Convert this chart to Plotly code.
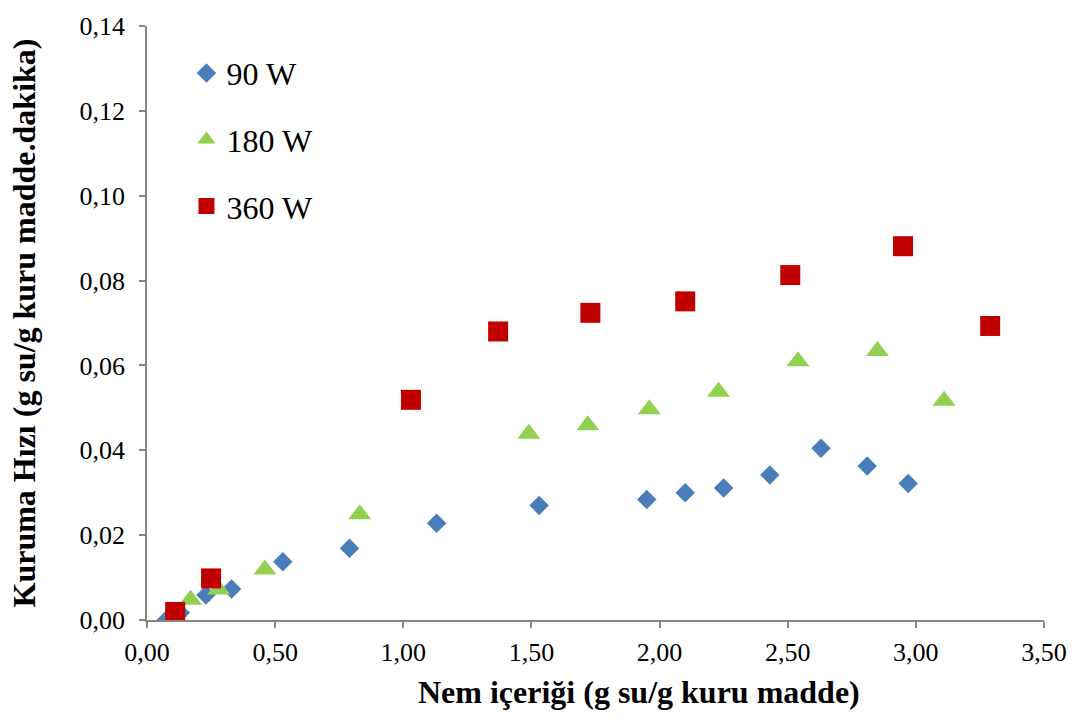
import plotly.graph_objects as go

# Kuruma hızı - nem içeriği verileri
nem_90 = [0.075, 0.13, 0.23, 0.33, 0.53, 0.79, 1.13, 1.53, 1.95, 2.10, 2.25, 2.43, 2.63, 2.81, 2.97]
hiz_90 = [0.0000, 0.0017, 0.0059, 0.0073, 0.0137, 0.0169, 0.0228, 0.0270, 0.0284, 0.0300,
          0.0311, 0.0342, 0.0405, 0.0363, 0.0322]

nem_180 = [0.17, 0.28, 0.46, 0.83, 1.49, 1.72, 1.96, 2.23, 2.54, 2.85, 3.11]
hiz_180 = [0.0048, 0.0072, 0.0119, 0.0249, 0.0439, 0.0459, 0.0497, 0.0538, 0.0610, 0.0634, 0.0517]

nem_360 = [0.11, 0.25, 1.03, 1.37, 1.73, 2.10, 2.51, 2.95, 3.29]
hiz_360 = [0.0019, 0.0098, 0.0519, 0.0680, 0.0724, 0.0751, 0.0813, 0.0881, 0.0693]

x_ticks = [0, 0.5, 1.0, 1.5, 2.0, 2.5, 3.0, 3.5]
y_ticks = [0, 0.02, 0.04, 0.06, 0.08, 0.10, 0.12, 0.14]

x_title = "Nem içeriği (g su/g kuru madde)"
y_title = "Kuruma Hızı (g su/g kuru madde.dakika)"

FONT = "Liberation Serif"
AXIS_COLOR = "#868686"

fig = go.Figure()
fig.add_trace(go.Scatter(x=nem_90, y=hiz_90, mode="markers", name="90 W", legendgroup="a",
                         marker=dict(symbol="diamond", size=15, color="#4A7EBB")))
fig.add_trace(go.Scatter(x=nem_180, y=hiz_180, mode="markers", name="180 W", legendgroup="b",
                         marker=dict(symbol="triangle-up", size=20, color="#92D050")))
fig.add_trace(go.Scatter(x=nem_360, y=hiz_360, mode="markers", name="360 W", legendgroup="c",
                         marker=dict(symbol="square", size=20, color="#C00000")))

# x-axis title placed as an annotation (sits slightly right of the plot centre)
fig.add_annotation(text=f"<b>{x_title}</b>", xref="paper", yref="paper",
                   x=0.548, y=0, xanchor="center", yanchor="top", yshift=-52,
                   showarrow=False, font=dict(family=FONT, size=32, color="black"))

fig.update_layout(
    width=1080, height=720,
    margin=dict(l=147, r=36, t=18, b=100),
    paper_bgcolor="white", plot_bgcolor="white",
    separators=",.",
    font=dict(family=FONT, color="black", size=26),
    legend=dict(x=0.044, y=0.967, xanchor="left", yanchor="top",
                font=dict(family=FONT, size=32), tracegroupgap=22,
                traceorder="grouped", bgcolor="rgba(0,0,0,0)"),
    xaxis=dict(range=[0, 3.5], tickvals=x_ticks, tickformat=".2f",
               showgrid=False, zeroline=False, showline=True, linecolor=AXIS_COLOR, linewidth=1.5,
               ticks="outside", ticklen=6, tickcolor=AXIS_COLOR, tickwidth=1.5,
               ticklabelstandoff=2,
               tickfont=dict(family=FONT, size=26)),
    yaxis=dict(range=[0, 0.14], tickvals=y_ticks, tickformat=".2f",
               showgrid=False, zeroline=False, showline=True, linecolor=AXIS_COLOR, linewidth=1.5,
               ticks="outside", ticklen=6, tickcolor=AXIS_COLOR, tickwidth=1.5,
               ticklabelstandoff=9,
               tickfont=dict(family=FONT, size=26),
               title=dict(text=f"<b>{y_title}</b>",
                          font=dict(family=FONT, size=32), standoff=34)),
)

fig.write_html("out.html")
